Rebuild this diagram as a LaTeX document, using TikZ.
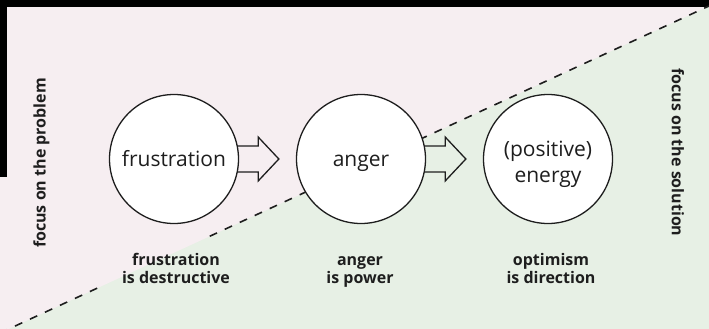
\documentclass[tikz,border=0pt]{standalone}
\usepackage{fontspec}
\setmainfont{Open Sans}
\usetikzlibrary{calc}
\definecolor{pinkbg}{RGB}{246,238,241}
\definecolor{greenbg}{RGB}{231,240,229}
\definecolor{ink}{RGB}{30,30,30}
\newcommand\blockarrowpath[2]{%
  \draw[blockarrow] ($(#1.center)+(63.2,-13)$) -- ($(#1.east)+(19,-13)$)
    -- ($(#1.east)+(19,-22)$) -- ($(#2.west)+(-17,0)$)
    -- ($(#1.east)+(19,22)$) -- ($(#1.east)+(19,13)$)
    -- ($(#1.center)+(63.2,13)$);}
\begin{document}
\begin{tikzpicture}[x=1pt,y=-1pt,
  circ/.style={circle,draw=ink,line width=1.3pt,fill=white,minimum size=129pt,
    inner sep=0pt,font=\fontsize{21}{26}\selectfont,text=ink},
  lbl/.style={font=\bfseries\fontsize{16}{18}\selectfont,text=ink,inner sep=2pt},
  side/.style={font=\bfseries\fontsize{16}{18}\selectfont,text=ink},
  divider/.style={draw=ink,line width=1.6pt,dash pattern=on 8pt off 8.5pt},
  blockarrow/.style={draw=ink,line width=1.3pt,line join=miter}]
\useasboundingbox (0,0) rectangle (709,329);
\begin{scope}
  \clip (0,0) rectangle (709,329);
  \fill[greenbg] (0,0) rectangle (709,329);
  \fill[pinkbg] (0,0) -- (709,0) -- (709,6) -- (0,333) -- cycle;
  \fill[black] (0,0) rectangle (709,7);
  \fill[black] (0,0) rectangle (7,177);
\end{scope}
% side labels
\node[side,rotate=90] (pl) at (41.5,163) {focus on the problem};
\node[side,rotate=-90] (sl) at (678,152.5) {focus on the solution};
% bottom labels
\node[lbl,anchor=base] (l1) at (176,265) {\begin{tabular}[t]{@{}c@{}}frustration\\is destructive\end{tabular}};
\node[lbl,anchor=base] (l2) at (360,265) {\begin{tabular}[t]{@{}c@{}}anger\\is power\end{tabular}};
\node[lbl,anchor=base] (l3) at (551,265) {\begin{tabular}[t]{@{}c@{}}optimism\\is direction\end{tabular}};
% dashed divider, interrupted behind the first label
\begin{scope}[even odd rule]
  \clip (0,0) rectangle (709,329)
        ($(l1.south west)+(-20,10)$) rectangle ($(l1.north east)+(10,-12)$);
  \coordinate (dl) at (0,333);
  \coordinate (dr) at (709,6);
  \draw[divider] (dl) -- (dr);
\end{scope}
% circles
\node[circ,text height=14pt,text depth=0pt] (c1) at (174,159) {frustration};
\node[circ,text height=14pt,text depth=0pt] (c2) at (361,159) {anger};
\node[circ,text height=14pt,text depth=20pt] (c3) at (548,159) {\begin{tabular}[t]{@{}c@{}}(positive)\\energy\end{tabular}};
% block arrows
\blockarrowpath{c1}{c2}
\blockarrowpath{c2}{c3}
\end{tikzpicture}
\end{document}
